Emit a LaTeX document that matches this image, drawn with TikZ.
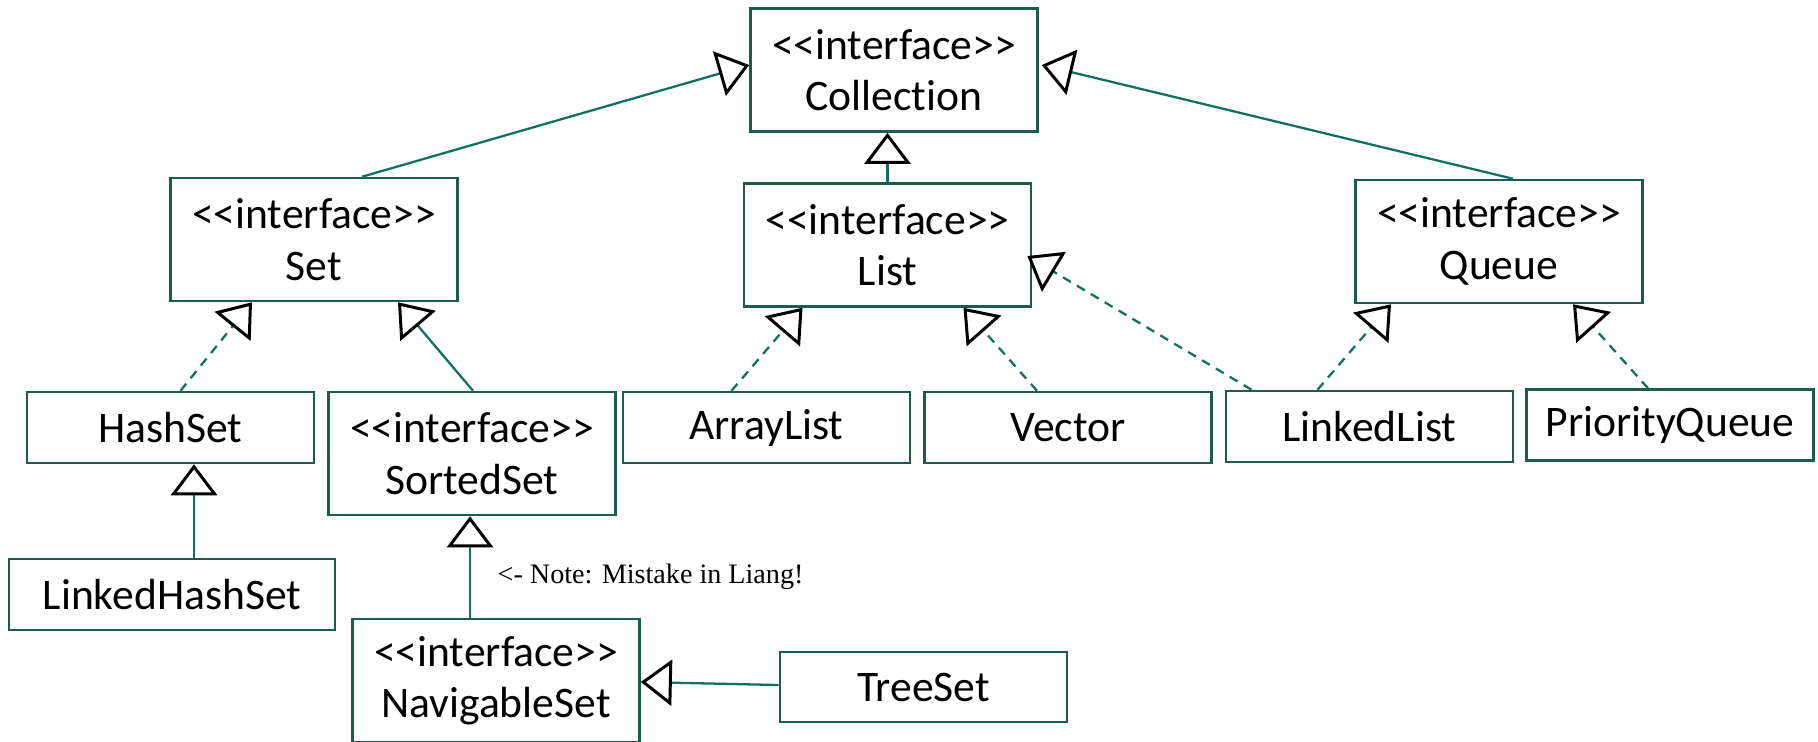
\documentclass[tikz,border=0pt]{standalone}
\usepackage{fontspec}
\setmainfont{Carlito}[Ligatures={TeXOff,CommonOff}]
\newfontfamily\notefont{Liberation Serif}[Ligatures=TeXOff]
\usetikzlibrary{arrows.meta,calc}
\definecolor{boxline}{RGB}{28,92,80}
\definecolor{linkline}{RGB}{17,112,96}
\tikzset{
  cls/.style={draw=boxline, line width=0.7pt, fill=white, inner sep=0pt,
    minimum width=2.87cm, align=center,
    font=\fontsize{12.4pt}{14.6pt}\selectfont},
  iface/.style={cls, minimum height=1.23cm},
  plain/.style={cls, minimum height=0.71cm},
  gen/.style={draw=linkline, line width=0.65pt,
    -{Triangle[length=0.31cm, width=0.46cm, line width=0.85pt, color=black, fill=white]}},
  impl/.style={gen, dash pattern=on 2.6pt off 2pt},
}
\begin{document}
\begin{tikzpicture}[x=0.01cm, y=-0.01cm]
\useasboundingbox (0,0) rectangle (1818,741);

% interfaces
\node[iface] (Collection) at (894,70)    {<<interface>>\\Collection};
\node[iface] (Set)        at (314,239.5) {<<interface>>\\Set};
\node[iface] (List)       at (887.5,245) {<<interface>>\\List};
\node[iface] (Queue)      at (1499,241.5){<<interface>>\\Queue};
\node[iface] (SortedSet)  at (472,453.5) {<<interface>>\\SortedSet};
\node[iface] (NavigableSet) at (496,680.5) {<<interface>>\\NavigableSet};

% classes
\node[plain] (HashSet)       at (170.5,427.5) {HashSet};
\node[plain] (ArrayList)     at (766.5,427.5) {ArrayList};
\node[plain] (Vector)        at (1068,427.5)  {Vector};
\node[plain] (LinkedList)    at (1369.5,426.5){LinkedList};
\node[plain] (PriorityQueue) at (1670,425)    {PriorityQueue};
\node[plain, minimum width=3.26cm] (LinkedHashSet) at (172,594.5) {LinkedHashSet};
\node[plain, minimum height=0.70cm] (TreeSet) at (923.5,687) {TreeSet};

\node[anchor=west, inner sep=0pt, font=\notefont\fontsize{8pt}{9.6pt}\selectfont]
  (note) at (497,577) {<- Note: Mistake in Liang!};

% extends (solid)
\draw[gen] ($(Set.north)+(48,0)$) -- ($(Collection.west)+(0,-5)$);
\draw[gen] (List.north) -- (List.north |- Collection.south);
\draw[gen] ($(Queue.north)+(14,0)$) -- ($(Collection.east)+(3,-5)$);
\draw[gen] ($(SortedSet.north)+(1,0)$) -- ($(Set.south)+(84,0)$);
\draw[gen] ($(LinkedHashSet.north)+(22,0)$) coordinate (lhs) -- (lhs |- HashSet.south);
\draw[gen] ($(NavigableSet.north)+(-26,0)$) coordinate (nav) -- (nav |- SortedSet.south);
\draw[gen] ($(TreeSet.west)+(0,-2)$) -- ($(NavigableSet.east)+(0,1.5)$);

% implements (dashed)
\draw[impl] ($(HashSet.north)+(10,0)$) -- ($(Set.south)+(-62,0)$);
\draw[impl] ($(ArrayList.north)+(-35,0)$) -- ($(List.south)+(-85,0)$);
\draw[impl] ($(Vector.north)+(-31,0)$) -- ($(List.south)+(76,0)$);
\draw[impl] ($(LinkedList.north)+(-118,0)$) -- ($(List.east)+(-5,11)$);
\draw[impl] ($(LinkedList.north)+(-52,0)$) -- ($(Queue.south)+(-108,0)$);
\draw[impl] ($(PriorityQueue.north)+(-22,0)$) -- ($(Queue.south)+(74,0)$);
\end{tikzpicture}
\end{document}
